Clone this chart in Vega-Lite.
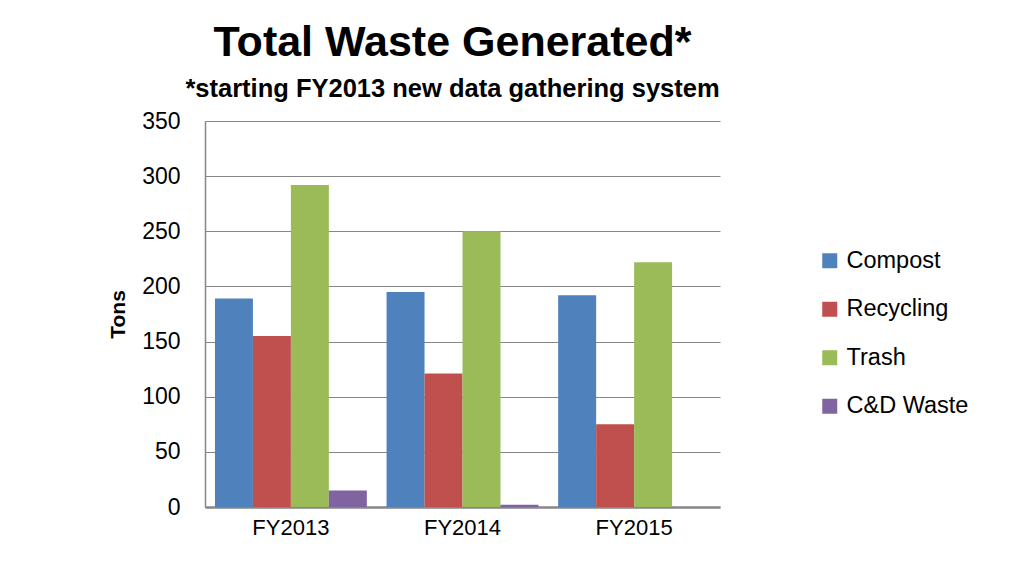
{
  "$schema": "https://vega.github.io/schema/vega-lite/v6.json",
  "autosize": "none",
  "width": 515,
  "height": 386,
  "padding": {"left": 205, "top": 121, "right": 311, "bottom": 68},
  "background": "white",
  "config": {
    "font": "Liberation Sans",
    "view": {"stroke": null}
  },
  "title": {
    "text": "Total Waste Generated*",
    "subtitle": "*starting FY2013 new data gathering system",
    "anchor": "middle",
    "dx": -10,
    "offset": 8,
    "font": "Liberation Sans",
    "fontSize": 43,
    "fontWeight": "bold",
    "color": "black",
    "subtitleFont": "Liberation Sans",
    "subtitleFontSize": 25.5,
    "subtitleFontWeight": "bold",
    "subtitleColor": "black",
    "subtitlePadding": 12
  },
  "data": {
    "values": [
      {"year": "FY2013", "type": "Compost", "tons": 189},
      {"year": "FY2013", "type": "Recycling", "tons": 155},
      {"year": "FY2013", "type": "Trash", "tons": 292},
      {"year": "FY2013", "type": "C&D Waste", "tons": 15},
      {"year": "FY2014", "type": "Compost", "tons": 195},
      {"year": "FY2014", "type": "Recycling", "tons": 121},
      {"year": "FY2014", "type": "Trash", "tons": 250},
      {"year": "FY2014", "type": "C&D Waste", "tons": 2},
      {"year": "FY2015", "type": "Compost", "tons": 192},
      {"year": "FY2015", "type": "Recycling", "tons": 75},
      {"year": "FY2015", "type": "Trash", "tons": 222},
      {"year": "FY2015", "type": "C&D Waste", "tons": 0}
    ]
  },
  "mark": {"type": "bar"},
  "encoding": {
    "x": {
      "field": "year",
      "type": "nominal",
      "scale": {"paddingInner": 0.115, "paddingOuter": 0.058},
      "axis": {
        "title": null,
        "labelAngle": 0,
        "labelFontSize": 22,
        "labelColor": "black",
        "labelPadding": 10,
        "ticks": false,
        "domainColor": "#868686",
        "domainWidth": 2.5,
        "grid": false
      }
    },
    "xOffset": {
      "field": "type",
      "type": "nominal",
      "sort": ["Compost", "Recycling", "Trash", "C&D Waste"],
      "scale": {"paddingInner": 0, "paddingOuter": 0}
    },
    "y": {
      "field": "tons",
      "type": "quantitative",
      "scale": {"domain": [0, 350], "nice": false},
      "axis": {
        "title": "Tons",
        "titleFontSize": 21,
        "titleFontWeight": "bold",
        "titleColor": "black",
        "titlePadding": 13,
        "values": [0, 50, 100, 150, 200, 250, 300, 350],
        "labelFontSize": 23,
        "labelColor": "black",
        "labelPadding": 25,
        "ticks": false,
        "domainColor": "#868686",
        "domainWidth": 1.5,
        "gridColor": "#868686",
        "gridWidth": 1.2
      }
    },
    "color": {
      "field": "type",
      "type": "nominal",
      "sort": ["Compost", "Recycling", "Trash", "C&D Waste"],
      "scale": {
        "domain": ["Compost", "Recycling", "Trash", "C&D Waste"],
        "range": ["#4F81BD", "#C0504D", "#9BBB59", "#8064A2"]
      },
      "legend": {
        "title": null,
        "orient": "none",
        "legendX": 613,
        "legendY": 128,
        "symbolType": "square",
        "symbolSize": 225,
        "symbolStrokeWidth": 0,
        "labelFontSize": 23.5,
        "labelColor": "black",
        "labelOffset": 5,
        "rowPadding": 23.5
      }
    }
  }
}
